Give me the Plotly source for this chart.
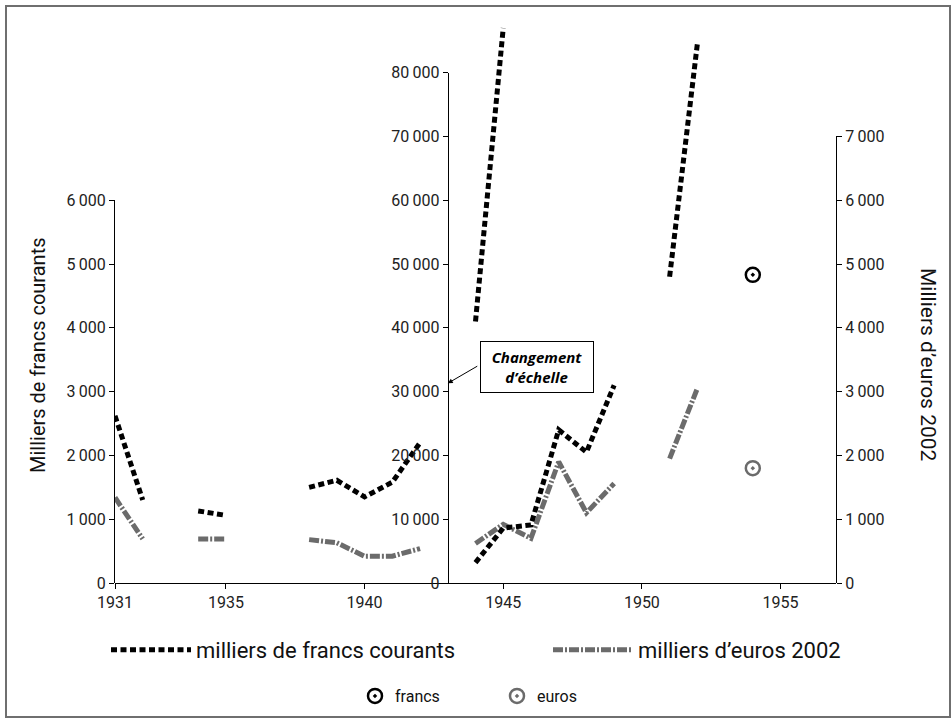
import plotly.graph_objects as go

# ---------------- data ----------------
# francs (thousands, current francs) before the change of scale (left axis)
francs_pre_years = [1931, 1932, 1934, 1935, 1938, 1939, 1940, 1941, 1942]
francs_pre_vals = [2620, 1300, 1130, 1060, 1500, 1610, 1350, 1580, 2200]

# francs after 1943 (middle axis, 0-80 000)
francs_post_years = [1944, 1945, 1946, 1947, 1948, 1949]
francs_post_vals = [3200, 8600, 9100, 24000, 20500, 31000]
francs_high_years = [1944, 1945, 1951, 1952]
francs_high_vals = [41000, 87000, 48000, 84500]

# thousands of 2002 euros (left / right axis)
euros_years = [1931, 1932, 1934, 1935, 1938, 1939, 1940, 1941, 1942,
               1944, 1945, 1946, 1947, 1948, 1949, 1951, 1952]
euros_vals = [1340, 690, 690, 690, 680, 630, 420, 420, 540,
              620, 920, 700, 1900, 1100, 1560, 1950, 3050]

# single points (1954)
point_year = [1954]
point_francs = [48300]
point_euros = [1800]

x_ticks = [1931, 1935, 1940, 1945, 1950, 1955]
left_ticks = [0, 1000, 2000, 3000, 4000, 5000, 6000]
mid_ticks = [0, 10000, 20000, 30000, 40000, 50000, 60000, 70000, 80000]
right_ticks = [0, 1000, 2000, 3000, 4000, 5000, 6000, 7000]
SCALE_BREAK_YEAR = 1943
SCALE_FACTOR = 10

# ---------------- geometry ----------------
W, H = 951, 718
ML, MR, MT, MB = 115, 115, 20, 135
X_RANGE = [1931, 1957]
PX_PER_1000 = 63.8
plot_w = W - ML - MR
plot_h = H - MT - MB
R = plot_h / PX_PER_1000 * 1000


def px_x(px):
    return (px - ML) / plot_w


def px_y(py):
    return (H - MB - py) / plot_h


def with_gaps(xs, ys):
    ox, oy = [], []
    for i, (x, y) in enumerate(zip(xs, ys)):
        if i > 0 and x - xs[i - 1] > 1:
            ox.append(None)
            oy.append(None)
        ox.append(x)
        oy.append(y)
    return ox, oy


def fmt(v):
    return f"{v:,}".replace(",", "\u2009")


FONT = "Liberation Sans Narrow, Roboto, sans-serif"
TICK_FONT = dict(family=FONT, size=16, color="#222")
FR_COLOR = "black"
EU_COLOR = "#6b6b6b"
FR_DASH = "6px,3.5px"
EU_DASH = "10px,2px,2px,2px"

fig = go.Figure()

fx, fy = with_gaps(francs_pre_years, francs_pre_vals)
fig.add_trace(go.Scatter(x=fx, y=fy, mode="lines", name="milliers de francs courants",
                         line=dict(color=FR_COLOR, width=5, dash=FR_DASH),
                         legendgroup="fr", xaxis="x", yaxis="y", legend="legend"))
px_, py_ = with_gaps(francs_post_years, francs_post_vals)
fig.add_trace(go.Scatter(x=px_, y=py_, mode="lines", name="milliers de francs courants",
                         line=dict(color=FR_COLOR, width=5, dash=FR_DASH),
                         legendgroup="fr", showlegend=False, xaxis="x", yaxis="y2"))
hx, hy = with_gaps(francs_high_years, francs_high_vals)
fig.add_trace(go.Scatter(x=hx, y=hy, mode="lines", name="milliers de francs courants",
                         line=dict(color=FR_COLOR, width=5, dash=FR_DASH),
                         legendgroup="fr", showlegend=False, xaxis="x", yaxis="y2"))
ex, ey = with_gaps(euros_years, euros_vals)
fig.add_trace(go.Scatter(x=ex, y=ey, mode="lines", name="milliers d\u2019euros 2002",
                         line=dict(color=EU_COLOR, width=5, dash=EU_DASH),
                         legendgroup="eu", xaxis="x", yaxis="y", legend="legend3"))

fig.add_trace(go.Scatter(x=point_year, y=point_francs, mode="markers", name="francs",
                         marker=dict(symbol="circle-open-dot", size=14, color="black",
                                     line=dict(width=2.5, color="black")),
                         xaxis="x", yaxis="y2", legend="legend2"))
fig.add_trace(go.Scatter(x=point_year, y=point_euros, mode="markers", name="euros",
                         marker=dict(symbol="circle-open-dot", size=14, color=EU_COLOR,
                                     line=dict(width=2.5, color=EU_COLOR)),
                         xaxis="x", yaxis="y", legend="legend4"))

# empty traces that carry the three visible value axes
for ax in ["y3", "y4", "y5"]:
    fig.add_trace(go.Scatter(x=[None], y=[None], xaxis="x", yaxis=ax,
                             showlegend=False, hoverinfo="skip"))

common_y = dict(showgrid=False, zeroline=False, showline=True, linecolor="black",
                linewidth=1, ticks="outside", ticklen=5, tickcolor="black",
                tickfont=TICK_FONT, fixedrange=True, automargin=False)


def legend_at(px, py, size, itemwidth=30):
    return dict(orientation="h", x=px_x(px), y=px_y(py), xanchor="left", yanchor="middle",
                font=dict(family=FONT, size=size, color="#111"), itemwidth=itemwidth,
                bgcolor="rgba(0,0,0,0)", borderwidth=0)


fig.update_layout(
    width=W, height=H,
    margin=dict(l=ML, r=MR, t=MT, b=MB, autoexpand=False),
    paper_bgcolor="white", plot_bgcolor="rgba(0,0,0,0)",
    xaxis=dict(domain=[0, 1], range=X_RANGE, anchor="y", tickvals=x_ticks,
               ticktext=[str(v) for v in x_ticks], showgrid=False, zeroline=False,
               showline=True, linecolor="black", linewidth=1, ticks="outside",
               ticklen=5, tickcolor="black", tickfont=TICK_FONT, automargin=False,
               fixedrange=True),
    yaxis=dict(domain=[0, 1], range=[0, R], visible=False, automargin=False,
               fixedrange=True),
    yaxis2=dict(overlaying="y", range=[0, R * SCALE_FACTOR], visible=False,
                automargin=False, fixedrange=True),
    yaxis3=dict(domain=[0, left_ticks[-1] / R], range=[0, left_ticks[-1]], anchor="x",
                side="left", tickvals=left_ticks, ticktext=[fmt(v) for v in left_ticks],
                **common_y),
    yaxis4=dict(domain=[0, mid_ticks[-1] / SCALE_FACTOR / R], range=[0, mid_ticks[-1]],
                anchor="free",
                position=(SCALE_BREAK_YEAR - X_RANGE[0]) / (X_RANGE[1] - X_RANGE[0]),
                side="left", tickvals=mid_ticks, ticktext=[fmt(v) for v in mid_ticks],
                **common_y),
    yaxis5=dict(domain=[0, right_ticks[-1] / R], range=[0, right_ticks[-1]], anchor="x",
                side="right", tickvals=right_ticks, ticktext=[fmt(v) for v in right_ticks],
                **common_y),
    legend=legend_at(106, 650, 22, itemwidth=80),
    legend3=legend_at(548, 650, 22, itemwidth=80),
    legend2=legend_at(355, 696, 16),
    legend4=legend_at(497, 696, 16),
    showlegend=True,
)

# axis titles
fig.add_annotation(text="Milliers de francs courants", xref="paper", yref="paper",
                   x=px_x(38), y=px_y(355), xanchor="center", yanchor="middle",
                   textangle=-90, showarrow=False,
                   font=dict(family="Roboto, sans-serif", size=20, color="#111"))
fig.add_annotation(text="Milliers d\u2019euros 2002", xref="paper", yref="paper",
                   x=px_x(928), y=px_y(365), xanchor="center", yanchor="middle",
                   textangle=90, showarrow=False,
                   font=dict(family="Roboto, sans-serif", size=21, color="#111"))

# scale change note
fig.add_annotation(text="", xref="x", yref="y2", x=SCALE_BREAK_YEAR, y=31300,
                   ax=31, ay=-18, showarrow=True, arrowhead=2, arrowsize=1,
                   arrowwidth=1, arrowcolor="black")
fig.add_annotation(text="<b><i>Changement<br>d\u2019\u00e9chelle</i></b>",
                   xref="paper", yref="paper", x=px_x(536.5), y=px_y(367),
                   xanchor="center", yanchor="middle",
                   showarrow=False, bordercolor="black", borderwidth=1, borderpad=3,
                   bgcolor="white", width=106, height=44, align="center",
                   font=dict(family="Open Sans, sans-serif", size=15, color="black"))

# outer frame
fig.add_shape(type="rect", xref="paper", yref="paper",
              x0=px_x(6), x1=px_x(950), y0=px_y(717), y1=px_y(6),
              line=dict(color="#6f6f6f", width=2), fillcolor="rgba(0,0,0,0)", layer="below")

# the page body has a default 8px margin; remove it so the figure fills the window
fig.write_html("out.html", config={"displayModeBar": False},
               post_script="document.body.style.margin='0px';")
